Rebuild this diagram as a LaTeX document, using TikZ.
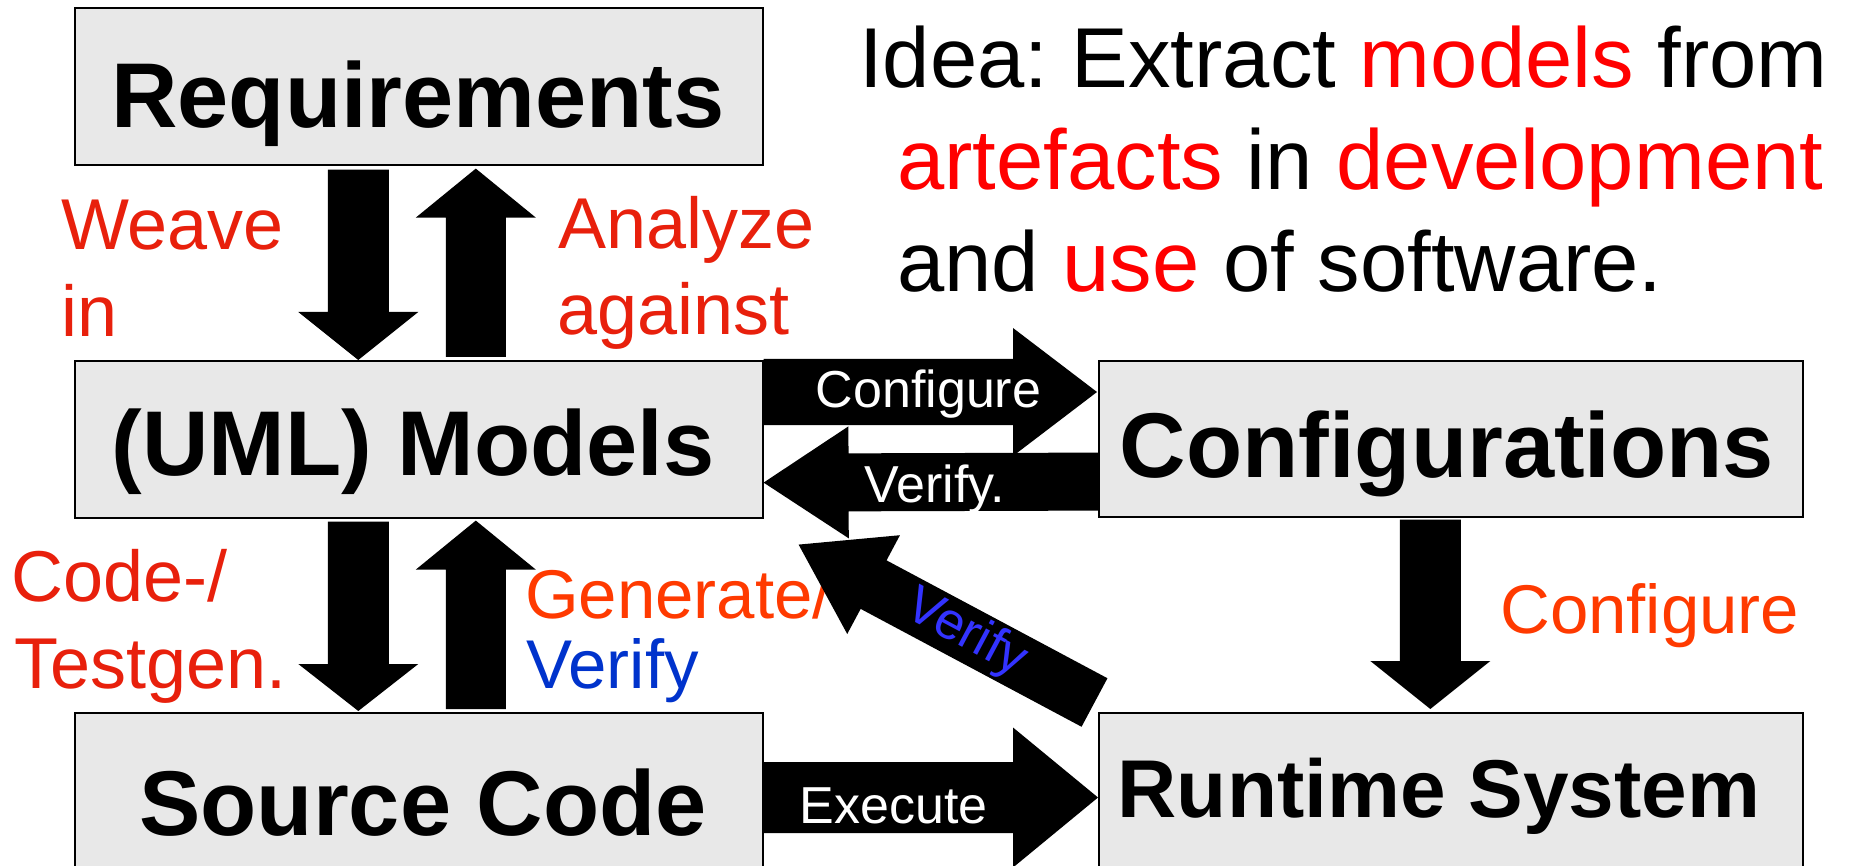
\documentclass[tikz,border=0pt]{standalone}
\usepackage{fontspec}
\setmainfont{Liberation Sans}
\usetikzlibrary{calc}
\frenchspacing

\definecolor{boxgray}{RGB}{232,232,232}
\definecolor{lblred}{RGB}{232,32,12}
\definecolor{lblorange}{RGB}{255,58,0}
\definecolor{vblue}{RGB}{0,51,204}
\definecolor{vbluelight}{RGB}{51,51,255}

% Block arrow from #1 to the tip #2: half shaft width #3, half head width #4,
% head length #5; #6 names the head-base coordinate.
\newcommand\blockarrow[6]{%
  \coordinate (#6-hb) at ($(#2)!#5!(#1)$);
  \fill[black] ($(#1)!#3!90:(#2)$) -- ($(#6-hb)!#3!90:(#2)$)
    -- ($(#6-hb)!#4!90:(#2)$) -- (#2) -- ($(#6-hb)!#4!-90:(#2)$)
    -- ($(#6-hb)!#3!-90:(#2)$) -- ($(#1)!#3!-90:(#2)$) -- cycle;
}

\tikzset{
  box/.style={draw=black, line width=1.6pt, fill=boxgray, rectangle,
    inner sep=0pt, anchor=north west},
  boxtext/.style={font=\fontsize{92}{100}\selectfont\bfseries, anchor=base, inner sep=0pt},
  sidetext/.style={font=\fontsize{72}{87}\selectfont, anchor=base west, inner sep=0pt},
  smallside/.style={font=\fontsize{69}{70}\selectfont, anchor=base west, inner sep=0pt},
  arrowtext/.style={font=\fontsize{52}{60}\selectfont, text=white, anchor=base, inner sep=0pt},
  titletext/.style={font=\fontsize{85}{102}\selectfont, anchor=base west, inner sep=0pt},
}

\begin{document}
\begin{tikzpicture}[x=1pt,y=-1pt]
\useasboundingbox (0,0) rectangle (1850,866);
\fill[white] (0,0) rectangle (1850,866);

% the five artefact boxes
\node[box, minimum width=688pt, minimum height=157pt] (req)  at (74,7) {};
\node[box, minimum width=688pt, minimum height=157pt] (mod)  at (74,360) {};
\node[box, minimum width=688pt, minimum height=170pt] (src)  at (74,712) {};
\node[box, minimum width=704pt, minimum height=156pt] (conf) at (1098,360) {};
\node[box, minimum width=704pt, minimum height=170pt] (run)  at (1098,712) {};

\node[boxtext] (reqlbl)  at (418,128)  {Requirements};
\node[boxtext] (modlbl)  at (413,475)  {(UML) Models};
\node[boxtext] (srclbl)  at (423,835)  {Source Code};
\node[boxtext] (conflbl) at (1447,477) {Configurations};
\node[boxtext, font=\fontsize{82}{90}\selectfont\bfseries] (runlbl) at (1439,817) {Runtime System};

% end points of the block arrows
\coordinate (weave-s) at ($(req.south)+(-60.5,4)$);
\coordinate (weave-t) at ($(mod.north)+(-60.5,0)$);
\coordinate (anal-s)  at ($(mod.north)+(57,-3)$);
\coordinate (anal-t)  at ($(req.south)+(57,3)$);
\coordinate (code-s)  at ($(mod.south)+(-60.5,3)$);
\coordinate (code-t)  at ($(src.north)+(-60.5,-1)$);
\coordinate (gen-s)   at ($(src.north)+(57,-3)$);
\coordinate (gen-t)   at ($(mod.south)+(57,2)$);
\coordinate (cfg-s)   at ($(mod.north east)+(0,32)$);
\coordinate (cfg-t)   at ($(conf.north west)+(-1,32)$);
\coordinate (ver-s)   at ($(conf.south west)+(0,-36)$);
\coordinate (ver-t)   at ($(mod.south east)+(0,-36)$);
\coordinate (cdown-s) at ($(conf.south)+(-20.5,2)$);
\coordinate (cdown-t) at ($(run.north)+(-20.5,-3)$);
\coordinate (exe-s)   at ($(src.north east)+(0,85.5)$);
\coordinate (exe-t)   at ($(run.north west)+(0,85.5)$);
\coordinate (diag-s)  at ($(run.north west)+(-3.5,-9.5)$);
\coordinate (diag-t)  at ($(mod.south east)+(35,26)$);

% vertical arrows
\blockarrow{weave-s}{weave-t}{30.5pt}{60pt}{48pt}{weave}
\blockarrow{anal-s}{anal-t}{30pt}{60pt}{49pt}{anal}
\blockarrow{code-s}{code-t}{30.5pt}{60pt}{47pt}{code}
\blockarrow{gen-s}{gen-t}{30pt}{60pt}{49pt}{gen}
\blockarrow{cdown-s}{cdown-t}{30.5pt}{60pt}{48pt}{cdown}

% horizontal arrows
\blockarrow{cfg-s}{cfg-t}{33pt}{64pt}{84pt}{cfg}
\blockarrow{ver-s}{ver-t}{29pt}{56pt}{85pt}{ver}
\blockarrow{exe-s}{exe-t}{35.5pt}{70pt}{85pt}{exe}

\node[arrowtext] (cfglbl) at (928.5,407) {Configure};
\node[arrowtext] (verlbl) at (935,502)   {Verify.};
\node[arrowtext] (exelbl) at (893.5,823) {Execute};

% labels beside the arrows
\node[sidetext, text=lblred] (weave1) at (61,250) {Weave};
\node[sidetext, text=lblred] (weave2) at (61,337) {in};
\node[sidetext, text=lblred] (anal1)  at (558,249) {Analyze};
\node[sidetext, text=lblred] (anal2)  at (557,335) {against};
\node[sidetext, text=lblred] (code1)  at (11,601) {Code-/};
\node[sidetext, text=lblred] (code2)  at (14,688) {Testgen.};
\node[smallside, text=lblorange] (gen1) at (525,618) {Generate/};
\node[smallside, text=vblue]     (gen2) at (526,688) {Verify};
\node[smallside, text=lblorange] (cdownlbl) at (1500,633) {Configure};

% diagonal arrow from the runtime system back to the models
\blockarrow{diag-s}{diag-t}{27.5pt}{56pt}{85pt}{diag}
\path (diag-s) -- node[pos=0.435, sloped, font=\fontsize{52}{60}\selectfont,
  text=vbluelight, inner sep=0pt] (diaglbl) {Verify} (diag-t);

% the idea statement
\node[titletext] (idea1) at (859,88)  {Idea: Extract \textcolor{red}{models} from};
\node[titletext] (idea2) at (897,190) {\textcolor{red}{artefacts} in \textcolor{red}{development}};
\node[titletext] (idea3) at (897,292) {and \textcolor{red}{use} of software.};
\end{tikzpicture}
\end{document}
